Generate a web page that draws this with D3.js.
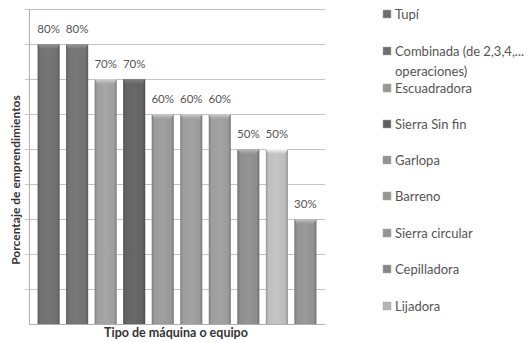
<!DOCTYPE html>
<html><head><meta charset="utf-8">
<script src="https://cdn.jsdelivr.net/npm/d3@7"></script>
<style>body{margin:0;background:#fff}svg{display:block}text{font-family:Lato,"Open Sans",sans-serif}</style>
</head><body><svg id="c" width="527" height="342"></svg>
<script>
const categories = ["Tupí","Combinada (de 2,3,4,... operaciones)","Escuadradora","Sierra Sin fin","Garlopa","Barreno","Sierra circular","Cepilladora","Lijadora",""];
const values = [80,80,70,70,60,60,60,50,50,30];
const barColors = ["#6c6c6c","#6e6e6e","#989898","#5f5f5f","#929292","#959595","#959595","#878787","#b4b4b4","#8c8c8c"];
const legendLines = [["Tupí"],["Combinada (de 2,3,4,...","operaciones)"],["Escuadradora"],["Sierra Sin fin"],["Garlopa"],["Barreno"],["Sierra circular"],["Cepilladora"],["Lijadora"]];
const yTicks = [0,10,20,30,40,50,60,70,80,90];

const svg = d3.select("#c");
const x = d3.scaleBand().domain(d3.range(values.length)).range([29,325]).paddingInner(0.226).paddingOuter(0.3);
const y = d3.scaleLinear().domain([0,90]).range([324,9]);
const defs = svg.append("defs");
barColors.forEach((c,i)=>{
  const g = defs.append("linearGradient").attr("id","g"+i).attr("x1","0").attr("x2","1").attr("y1","0").attr("y2","0");
  const base = d3.color(c);
  g.append("stop").attr("offset","0").attr("stop-color",base.darker(0.5));
  g.append("stop").attr("offset","0.12").attr("stop-color",base.brighter(0.15));
  g.append("stop").attr("offset","0.5").attr("stop-color",base.brighter(0.25));
  g.append("stop").attr("offset","0.88").attr("stop-color",base.brighter(0.1));
  g.append("stop").attr("offset","1").attr("stop-color",base.darker(0.6));
  const t = defs.append("linearGradient").attr("id","t"+i).attr("x1","0").attr("x2","0").attr("y1","0").attr("y2","1");
  t.append("stop").attr("offset","0").attr("stop-color",base.brighter(0.9));
  t.append("stop").attr("offset","1").attr("stop-color",base.brighter(0.2));
});

// gridlines
svg.append("g").selectAll("line").data(yTicks.slice(1)).join("line")
  .attr("x1",25).attr("x2",325).attr("y1",d=>y(d)+0.5).attr("y2",d=>y(d)+0.5)
  .attr("stroke","#c4c4c4").attr("stroke-width",1);
svg.append("line").attr("x1",29.5).attr("x2",29.5).attr("y1",y(90)).attr("y2",y(0)).attr("stroke","#b0b0b0");
svg.append("line").attr("x1",29).attr("x2",325).attr("y1",y(0)+0.5).attr("y2",y(0)+0.5).attr("stroke","#b0b0b0");

// bars
const bars = svg.append("g").selectAll("g").data(values).join("g");
bars.append("rect").attr("x",(d,i)=>x(i)).attr("width",x.bandwidth())
  .attr("y",d=>y(d)).attr("height",d=>y(0)-y(d)).attr("fill",(d,i)=>`url(#g${i})`);
bars.append("path").attr("d",(d,i)=>{
  const x0=x(i), w=x.bandwidth(), y0=y(d);
  return `M${x0},${y0}L${x0+w},${y0}L${x0+w-3},${y0+5}L${x0+3},${y0+5}Z`;
}).attr("fill",(d,i)=>`url(#t${i})`);
bars.append("text").attr("x",(d,i)=>x(i)+x.bandwidth()/2).attr("y",d=>y(d)-11)
  .attr("text-anchor","middle").attr("font-size",11.5).attr("fill","#555").text(d=>d+"%");

// axis titles
svg.append("text").attr("transform","translate(20,180) rotate(-90)").attr("text-anchor","middle")
  .attr("font-size",12).attr("font-weight","bold").attr("fill","#333").text("Porcentaje de emprendimientos");
svg.append("text").attr("x",176).attr("y",337).attr("text-anchor","middle")
  .attr("font-size",12.5).attr("font-weight","bold").attr("fill","#333").text("Tipo de máquina o equipo");

// legend
const ly = [14,51,88,124,160,196,233,269,306];
const leg = svg.append("g").selectAll("g").data(legendLines).join("g")
  .attr("transform",(d,i)=>`translate(383,${ly[i]})`);
leg.append("rect").attr("x",0).attr("y",-4).attr("width",8).attr("height",8)
  .attr("fill",(d,i)=>barColors[i]).attr("stroke","#aaa").attr("stroke-width",0.5);
leg.append("text").attr("x",12).attr("y",4.5).attr("font-size",13).attr("fill","#555")
  .selectAll("tspan").data(d=>d).join("tspan").attr("x",12).attr("dy",(d,j)=>j?20:0).text(d=>d);
</script></body></html>
